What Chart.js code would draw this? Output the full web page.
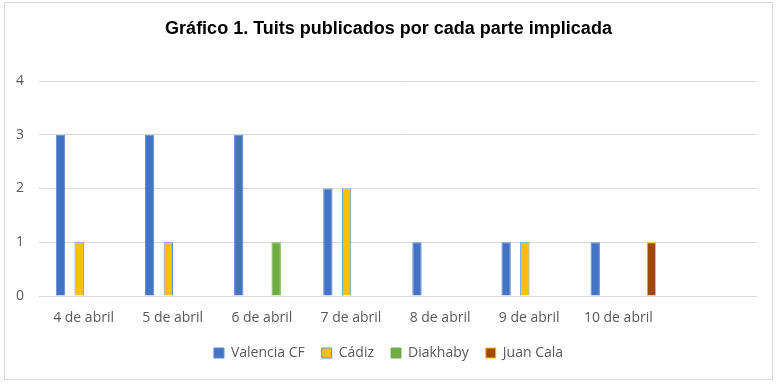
<!DOCTYPE html>
<html>
<head>
<meta charset="utf-8">
<script src="https://cdn.jsdelivr.net/npm/chart.js@4/dist/chart.umd.min.js"></script>
<style>
  html, body { margin: 0; padding: 0; background: #ffffff; }
  #frame { position: absolute; left: 4px; top: 2px; width: 767px; height: 376px; border: 1px solid #d9d9d9; }
  #wrap { position: absolute; left: 0; top: 0; width: 777px; height: 384px; }
</style>
</head>
<body>
<div id="frame"></div>
<div id="wrap"><canvas id="c" width="777" height="384"></canvas></div>
<script>
const categories = ["4 de abril", "5 de abril", "6 de abril", "7 de abril", "8 de abril", "9 de abril", "10 de abril", ""];
const valenciaCF = [3, 3, 3, 2, 1, 1, 1, null];
const cadiz      = [1, 1, null, 2, null, 1, null, null];
const diakhaby   = [null, null, 1, null, null, null, null, null];
const juanCala   = [null, null, null, null, null, null, 1, null];
const yTicks = [0, 1, 2, 3, 4];

const tickFont = { family: "'Open Sans', 'Noto Sans', sans-serif", size: 14 };
const textColor = '#595959';

new Chart(document.getElementById('c'), {
  type: 'bar',
  data: {
    labels: categories,
    datasets: [
      { label: 'Valencia CF', data: valenciaCF, backgroundColor: '#4472C4', borderColor: '#5A86D2', borderWidth: 1 },
      { label: 'Cádiz', data: cadiz, backgroundColor: '#FFC000', borderColor: '#5B8FE0', borderWidth: 1 },
      { label: 'Diakhaby', data: diakhaby, backgroundColor: '#70AD47', borderColor: '#70AD47', borderWidth: 1 },
      { label: 'Juan Cala', data: juanCala, backgroundColor: '#9E480E', borderColor: '#FFC000', borderWidth: 1 }
    ]
  },
  options: {
    responsive: false,
    animation: false,
    devicePixelRatio: 1,
    categoryPercentage: 0.84,
    barPercentage: 0.5,
    layout: { padding: { left: 12, right: 12, top: 10, bottom: 14 } },
    plugins: {
      title: {
        display: true,
        text: 'Gráfico 1. Tuits publicados por cada parte implicada',
        color: '#000000',
        font: { family: "'Liberation Sans', Arial, sans-serif", size: 18, weight: 'bold' },
        padding: { top: 8, bottom: 41.4 }
      },
      legend: {
        position: 'bottom',
        labels: {
          color: textColor,
          font: tickFont,
          boxWidth: 10,
          boxHeight: 10,
          padding: 17
        }
      },
      tooltip: { enabled: false }
    },
    scales: {
      x: {
        grid: { display: false, drawTicks: false },
        border: { display: false },
        afterFit: (scale) => { scale.height = 33; },
        ticks: { color: textColor, font: tickFont, padding: 14, labelOffset: -5, maxRotation: 0, autoSkip: false }
      },
      y: {
        min: 0,
        max: 4,
        afterBuildTicks: (scale) => { scale.ticks = yTicks.map(v => ({ value: v })); },
        afterFit: (scale) => { scale.width = 32; },
        grid: { color: '#d9d9d9', lineWidth: 1, drawTicks: true, tickLength: 5, tickColor: '#d9d9d9' },
        border: { display: false },
        ticks: { color: textColor, font: tickFont, padding: 15 }
      },
      yR: {
        type: 'linear',
        position: 'right',
        display: true,
        afterFit: (scale) => { scale.width = 8; },
        grid: { display: false, drawTicks: false },
        border: { display: false },
        ticks: { display: false }
      }
    }
  }
});
</script>
</body>
</html>
